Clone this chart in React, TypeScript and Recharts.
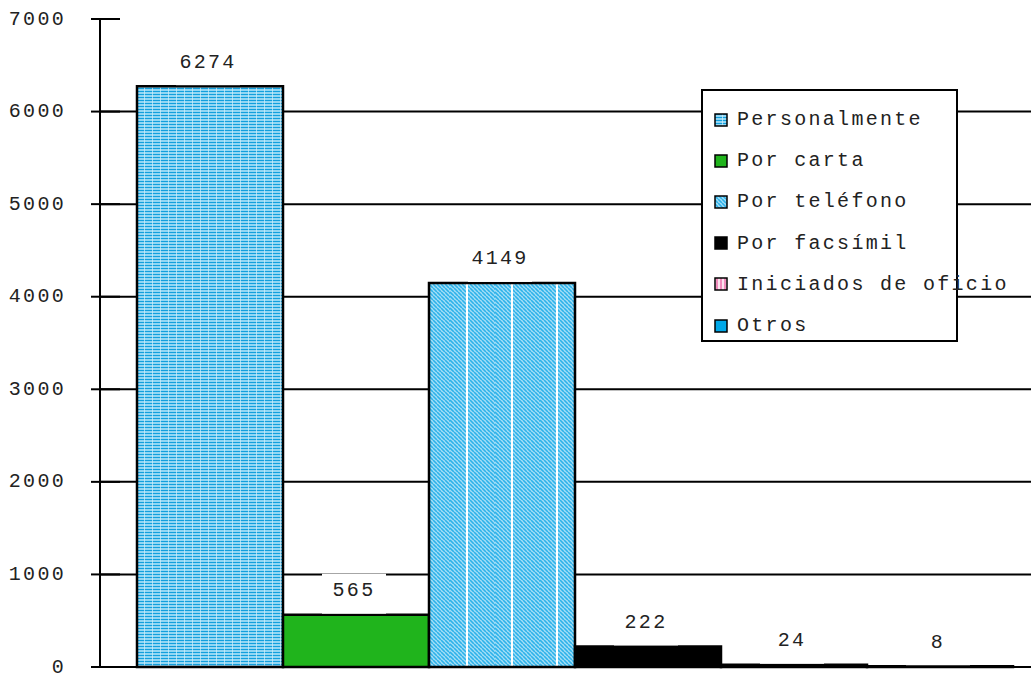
import { BarChart, Bar, XAxis, YAxis, CartesianGrid } from 'recharts';

const categories = [''];
const seriesNames = ['Personalmente', 'Por carta', 'Por teléfono', 'Por facsímil', 'Iniciados de oficio', 'Otros'];
const seriesValues = [6274, 565, 4149, 222, 24, 8];
const yTicks = [0, 1000, 2000, 3000, 4000, 5000, 6000, 7000];
const gridValues = [0, 1000, 2000, 3000, 4000, 5000, 6000];

const FILLS = ['url(#pPersonal)', '#20b41c', 'url(#pTelefono)', '#000000', 'url(#pOficio)', '#00a8e8'];
const KEYS = ['s0', 's1', 's2', 's3', 's4', 's5'];

const data = categories.map((name) => {
    const row: any = { name };
    seriesValues.forEach((v, i) => {
        row[KEYS[i]] = v;
    });
    return row;
});

const FONT = 'Liberation Mono, Courier New, monospace';

const ValueLabel = (props: any) => {
    const { x, y, width, value } = props;
    const cx = x + width / 2 - 2;
    return (
        <g>
            <rect x={cx - 32} y={y - 41} width={64} height={40} fill="#fff" />
            <text x={cx} y={y - 24} textAnchor="middle" dominantBaseline="central" fontFamily={FONT} fontSize={20} letterSpacing={2.3} fill="#222">
                {value}
            </text>
        </g>
    );
};

const YTick = (props: any) => {
    const { x, y, payload } = props;
    return (
        <g>
            <line x1={x + 26} x2={x + 26 + 29} y1={y} y2={y} stroke="#000" strokeWidth={2} />
            <text x={x + 1} y={y} textAnchor="end" dominantBaseline="central" fontFamily={FONT} fontSize={20} letterSpacing={2.3} fill="#222">
                {payload.value}
            </text>
        </g>
    );
};

const LegendBox = () => (
    <div
        style={{
            position: 'absolute',
            left: 701,
            top: 89,
            width: 253,
            height: 241,
            border: '2px solid #000',
            background: '#fff',
            boxSizing: 'content-box',
            paddingTop: 8,
        }}
    >
        {seriesNames.map((name, i) => (
            <div key={name} style={{ display: 'flex', alignItems: 'center', height: 41.2, whiteSpace: 'nowrap' }}>
                <svg width={14} height={14} style={{ marginLeft: 11, marginRight: 9, flex: 'none' }}>
                    <rect x={1} y={1} width={12} height={12} fill={FILLS[i]} stroke="#000" strokeWidth={1.5} />
                </svg>
                <span style={{ fontFamily: FONT, fontSize: 20, letterSpacing: 2.3, color: '#222' }}>{name}</span>
            </div>
        ))}
    </div>
);

export default function App() {
    return (
        <div style={{ position: 'absolute', left: 0, top: 0, width: 1031, height: 673, overflow: 'hidden', background: '#fff' }}>
            <BarChart width={1060} height={700} data={data} margin={{ top: 19, right: 13, left: 0, bottom: 32 }} barGap={0} barCategoryGap={37}>
                <defs>
                    <pattern id="pPersonal" patternUnits="userSpaceOnUse" width={8} height={3}>
                        <rect width={8} height={3} fill="#92d6f3" />
                        <line x1={0} x2={8} y1={1.5} y2={1.5} stroke="#129fdd" strokeWidth={1} />
                        <line x1={0.5} x2={0.5} y1={0} y2={3} stroke="#d2effb" strokeWidth={1} opacity={0.7} />
                    </pattern>
                    <pattern id="pTelefono" patternUnits="userSpaceOnUse" width={45} height={4}>
                        <rect width={45} height={4} fill="#a4def6" />
                        <path
                            d="M0,0 l4,4 M4,0 l4,4 M8,0 l4,4 M12,0 l4,4 M16,0 l4,4 M20,0 l4,4 M24,0 l4,4 M28,0 l4,4 M32,0 l4,4 M36,0 l4,4 M40,0 l4,4 M44,0 l4,4 M-4,0 l4,4"
                            stroke="#2cb2ea"
                            strokeWidth={1.6}
                        />
                        <line x1={17} x2={17} y1={0} y2={4} stroke="#fff" strokeWidth={2} />
                    </pattern>
                    <pattern id="pOficio" patternUnits="userSpaceOnUse" width={4} height={4}>
                        <rect width={4} height={4} fill="#f08cbc" />
                        <line x1={1} x2={1} y1={0} y2={4} stroke="#fff" strokeWidth={1.5} />
                    </pattern>
                </defs>
                <CartesianGrid vertical={false} horizontalValues={gridValues} stroke="#000" strokeWidth={2} />
                <XAxis dataKey="name" tick={false} tickLine={false} axisLine={{ stroke: '#000', strokeWidth: 2 }} height={1} />
                <YAxis
                    domain={[0, 7000]}
                    ticks={yTicks}
                    interval={0}
                    width={100}
                    tickSize={9}
                    tickMargin={26}
                    tickLine={false}
                    axisLine={{ stroke: '#000', strokeWidth: 2 }}
                    tick={<YTick />}
                />
                {KEYS.map((k, i) => (
                    <Bar
                        key={k}
                        dataKey={k}
                        name={seriesNames[i]}
                        fill={FILLS[i]}
                        stroke="#000"
                        strokeWidth={2.5}
                        isAnimationActive={false}
                        label={<ValueLabel />}
                    />
                ))}
            </BarChart>
            <LegendBox />
        </div>
    );
}
